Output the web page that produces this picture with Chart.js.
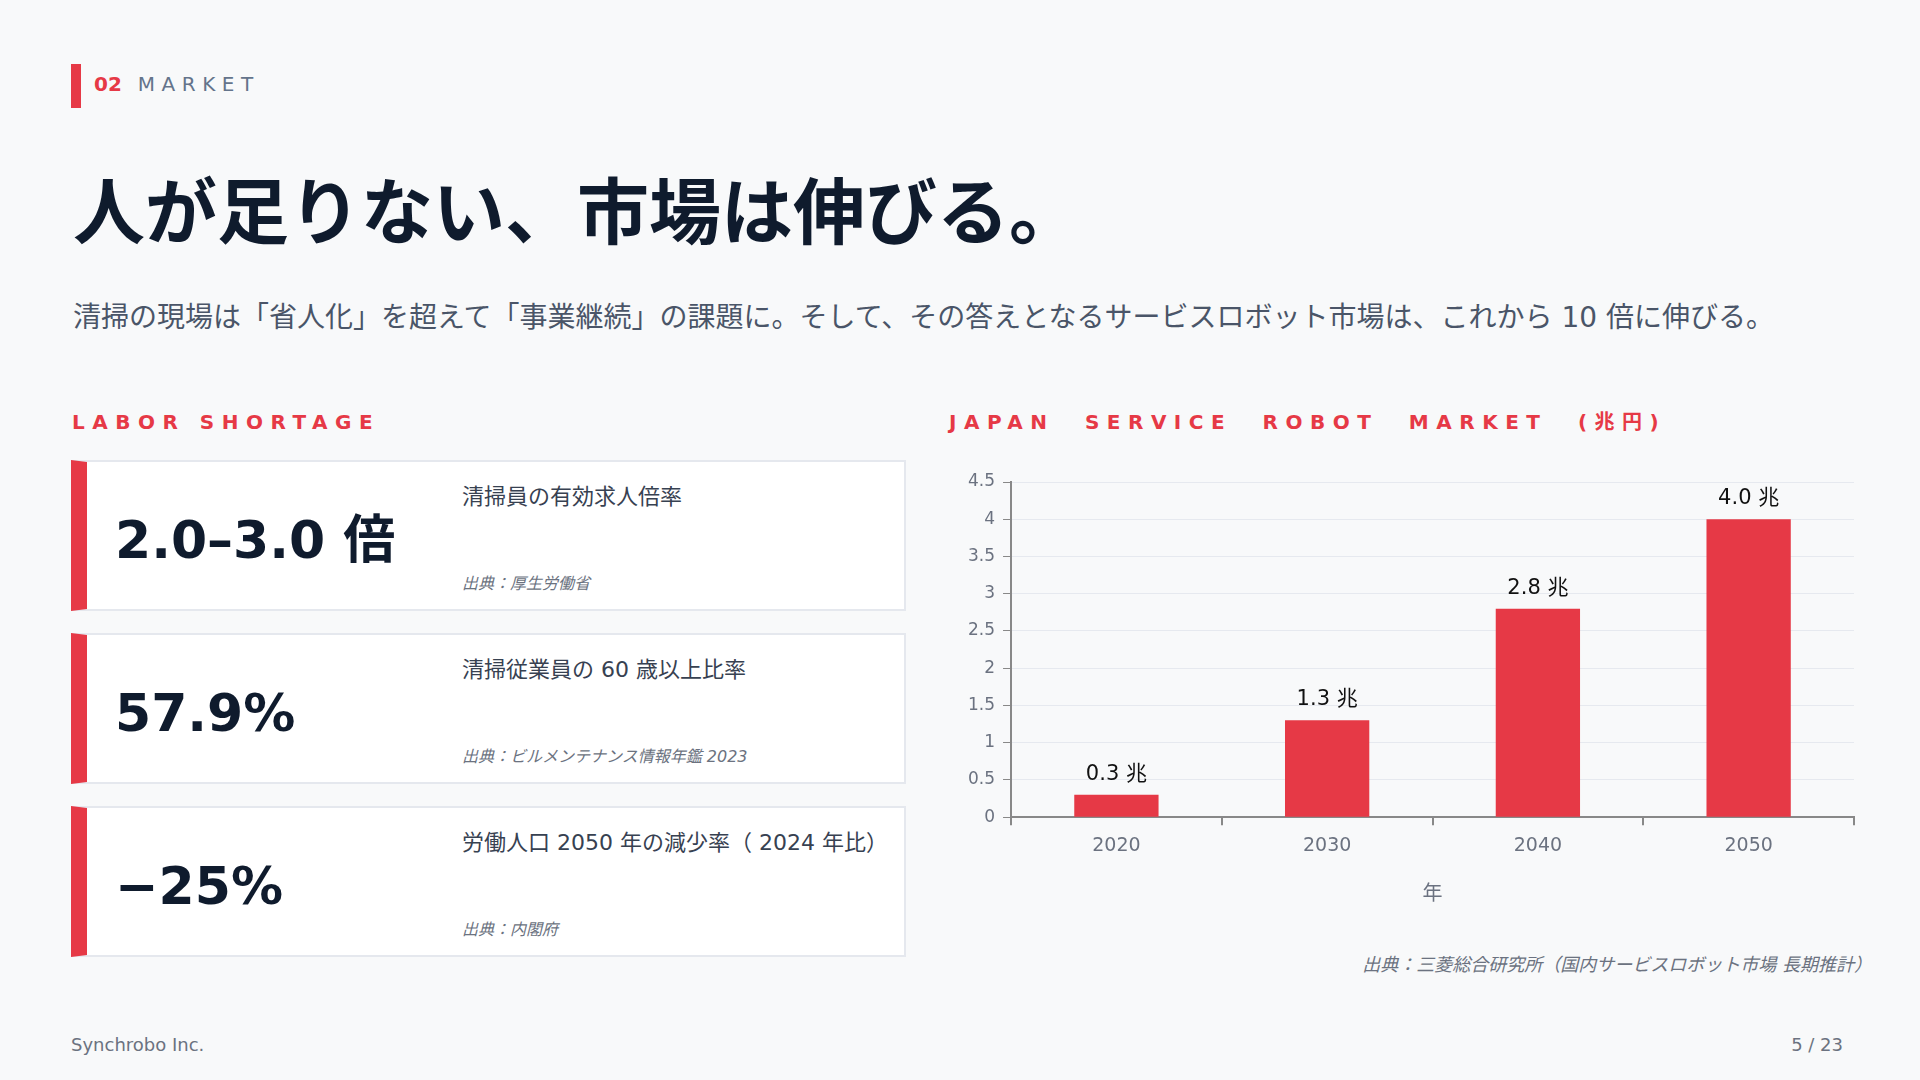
<!DOCTYPE html>
<html lang="ja">
<head>
<meta charset="utf-8">
<title>Market</title>
<script src="https://cdn.jsdelivr.net/npm/chart.js@4.4.1/dist/chart.umd.min.js"></script>
<style>
  html, body { margin: 0; padding: 0; }
  body {
    width: 1920px; height: 1080px; overflow: hidden; position: relative;
    background: #f8f9fa;
    font-family: "DejaVu Sans", "Noto Sans CJK JP", sans-serif;
    color: #0f172a;
  }
  .abs { position: absolute; line-height: 1; white-space: nowrap; }
  .accent { position: absolute; left: 71px; top: 64px; width: 10px; height: 44px; background: #e63946; }
  .kicker { left: 94px; top: 74px; font-size: 20px; }
  .kicker b { color: #e63946; margin-right: 16px; }
  .kicker span { color: #64748b; letter-spacing: 6.5px; }
  .title { left: 73px; top: 177px; font-size: 72px; font-weight: 700; color: #0f1b2d; }
  .lead { left: 73px; top: 304px; font-size: 28px; color: #4a5568; }
  .sec { top: 412px; font-size: 20px; font-weight: 700; color: #e63946; letter-spacing: 7.5px; }
  .card {
    position: absolute; left: 71px; width: 835px; height: 151px; box-sizing: border-box;
    background: #fff; border: 2px solid #e5e8ee; border-left: 16px solid #e63946;
  }
  .card .num { position: absolute; left: 28px; top: 52px; font-size: 52px; font-weight: 700; line-height: 1; color: #0f1b2d; white-space: nowrap; }
  .card .lbl { position: absolute; left: 375px; top: 24px; font-size: 22px; line-height: 1; color: #374151; white-space: nowrap; }
  .card .src { position: absolute; left: 375px; top: 114px; font-size: 16px; line-height: 1; font-style: italic; color: #6b7280; white-space: nowrap; }
  #chartBox { position: absolute; left: 949px; top: 460px; width: 912px; height: 450px; }
  .csrc { right: 48px; top: 956px; font-size: 18px; font-style: italic; color: #6b7280; }
  .foot { top: 1036px; font-size: 18px; color: #6b7280; }
</style>
</head>
<body>
<div class="accent"></div>
<div class="abs kicker"><b>02</b><span>MARKET</span></div>
<div class="abs title">人が足りない、市場は伸びる。</div>
<div class="abs lead">清掃の現場は「省人化」を超えて「事業継続」の課題に。そして、その答えとなるサービスロボット市場は、これから 10 倍に伸びる。</div>

<div class="abs sec" style="left:72px;">LABOR SHORTAGE</div>
<div class="abs sec" style="left:949px; word-spacing:16px;">JAPAN SERVICE ROBOT MARKET (兆円)</div>

<div class="card" style="top:460px;">
  <div class="num">2.0–3.0 倍</div>
  <div class="lbl">清掃員の有効求人倍率</div>
  <div class="src">出典：厚生労働省</div>
</div>
<div class="card" style="top:633px;">
  <div class="num">57.9%</div>
  <div class="lbl">清掃従業員の 60 歳以上比率</div>
  <div class="src">出典：ビルメンテナンス情報年鑑 2023</div>
</div>
<div class="card" style="top:806px;">
  <div class="num">−25%</div>
  <div class="lbl">労働人口 2050 年の減少率（ 2024 年比）</div>
  <div class="src">出典：内閣府</div>
</div>

<div id="chartBox"><canvas id="marketChart"></canvas></div>
<div class="abs csrc">出典：三菱総合研究所（国内サービスロボット市場 長期推計）</div>

<div class="abs foot" style="left:71px;">Synchrobo Inc.</div>
<div class="abs foot" style="right:77px;">5 / 23</div>

<script>
const years = ['2020', '2030', '2040', '2050'];
const marketSize = [0.3, 1.3, 2.8, 4.0];
const valueLabels = ['0.3 兆', '1.3 兆', '2.8 兆', '4.0 兆'];

const RED = '#e63946';
const AXIS = '#888888';
const TICK_TEXT = '#6b7280';
const FONT = "'DejaVu Sans', 'Noto Sans CJK JP', sans-serif";

Chart.defaults.font.family = FONT;

// draws "x.x 兆" above each bar
const barLabels = {
    id: 'barLabels',
    afterDatasetsDraw(chart) {
        const ctx = chart.ctx;
        const meta = chart.getDatasetMeta(0);
        ctx.save();
        ctx.font = '21px ' + FONT;
        ctx.fillStyle = '#111111';
        ctx.textAlign = 'center';
        ctx.textBaseline = 'bottom';
        meta.data.forEach((bar, i) => {
            ctx.fillText(valueLabels[i], bar.x, bar.y - 10);
        });
        ctx.restore();
    }
};

new Chart(document.getElementById('marketChart'), {
    type: 'bar',
    data: {
        labels: years,
        datasets: [{
            data: marketSize,
            backgroundColor: RED,
            borderWidth: 0,
            categoryPercentage: 0.8,
            barPercentage: 0.5
        }]
    },
    options: {
        responsive: true,
        maintainAspectRatio: false,
        animation: false,
        layout: { padding: { left: 11, right: 7, top: 22, bottom: 3 } },
        plugins: {
            legend: { display: false },
            tooltip: { enabled: false }
        },
        scales: {
            x: {
                grid: { offset: true, drawOnChartArea: false, tickColor: AXIS, tickLength: 8, lineWidth: 2 },
                border: { color: AXIS, width: 2 },
                ticks: { color: TICK_TEXT, font: { size: 19 }, padding: 9 },
                title: { display: true, text: '年', color: TICK_TEXT, font: { size: 20 }, padding: { top: 17, bottom: 0 } }
            },
            y: {
                min: 0,
                max: 4.5,
                grid: { color: '#e6e9ef', tickColor: AXIS, tickLength: 8 },
                border: { color: AXIS, width: 2 },
                ticks: {
                    stepSize: 0.5,
                    color: TICK_TEXT,
                    font: { size: 17 },
                    padding: 8,
                    callback: (v) => String(v)
                }
            }
        }
    },
    plugins: [barLabels]
});
</script>
</body>
</html>
